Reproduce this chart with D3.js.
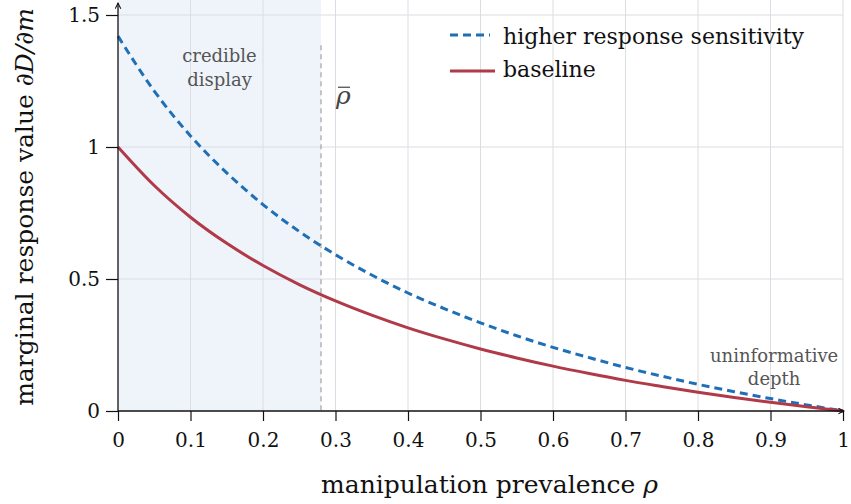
<!DOCTYPE html>
<html>
<head>
<meta charset="utf-8">
<script src="https://cdn.jsdelivr.net/npm/d3@7"></script>
<style>
  body { margin: 0; background: #fff; }
</style>
</head>
<body>
<div id="chart"></div>
<script>
// values
var rho = [0, 0.05, 0.1, 0.15, 0.2, 0.25, 0.3, 0.35, 0.4, 0.45, 0.5, 0.55, 0.6, 0.65, 0.7, 0.75, 0.8, 0.85, 0.9, 0.95, 1];
var baseline = [1.00, 0.854, 0.734, 0.635, 0.551, 0.479, 0.417, 0.363, 0.315, 0.273, 0.235, 0.201, 0.170, 0.142, 0.116, 0.093, 0.071, 0.051, 0.033, 0.016, 0];
var higher = [1.42, 1.212, 1.042, 0.902, 0.782, 0.680, 0.592, 0.515, 0.447, 0.388, 0.334, 0.285, 0.241, 0.202, 0.165, 0.132, 0.101, 0.073, 0.047, 0.023, 0];
var xTicks = [0, 0.1, 0.2, 0.3, 0.4, 0.5, 0.6, 0.7, 0.8, 0.9, 1];
var yTicks = [0, 0.5, 1, 1.5];
var rhoBar = 0.28;

var serif = "'DejaVu Serif', 'Liberation Serif', serif";

var margin = { top: 15, right: 8, bottom: 93, left: 118 },
    width = 851 - margin.left - margin.right,
    height = 504 - margin.top - margin.bottom;

var svg = d3.select("#chart")
    .append("svg")
    .attr("width", 851)
    .attr("height", 504)
    .append("g")
    .attr("transform", "translate(" + margin.left + "," + margin.top + ")");

var x = d3.scaleLinear().domain([0, 1]).range([0, 725]);
var y = d3.scaleLinear().domain([0, 1.5]).range([height, 0]);
var yTop = -margin.top;

// credible display band
svg.append("rect")
    .attr("x", x(0))
    .attr("y", yTop)
    .attr("width", x(rhoBar) - x(0))
    .attr("height", y(0) - yTop)
    .attr("fill", "#eef4fa");

// grid
svg.append("g").selectAll("line").data(xTicks.slice(1)).enter().append("line")
    .attr("x1", function (d) { return x(d); })
    .attr("x2", function (d) { return x(d); })
    .attr("y1", y(0)).attr("y2", yTop)
    .attr("stroke", "#dcdde3").attr("stroke-width", 1);
svg.append("g").selectAll("line").data(yTicks.slice(1)).enter().append("line")
    .attr("x1", x(0)).attr("x2", x(1))
    .attr("y1", function (d) { return y(d); })
    .attr("y2", function (d) { return y(d); })
    .attr("stroke", "#dcdde3").attr("stroke-width", 1);

// rho bar marker
svg.append("line")
    .attr("x1", x(rhoBar)).attr("x2", x(rhoBar))
    .attr("y1", y(1.385)).attr("y2", y(0))
    .attr("stroke", "#aaaaaa").attr("stroke-width", 1.3)
    .attr("stroke-dasharray", "5,4");

var rb = svg.append("text")
    .attr("x", x(rhoBar) + 15)
    .attr("y", y(1.162))
    .style("font-family", serif)
    .style("font-size", "25px")
    .style("font-style", "italic")
    .attr("fill", "#444")
    .text("\u03c1");
var bb = rb.node().getBBox();
svg.append("line")
    .attr("x1", bb.x + 3).attr("x2", bb.x + bb.width - 1)
    .attr("y1", y(1.162) - 17).attr("y2", y(1.162) - 17)
    .attr("stroke", "#444").attr("stroke-width", 1.2);

// annotations
var note1 = svg.append("text")
    .attr("text-anchor", "middle")
    .style("font-family", serif)
    .style("font-size", "18px")
    .attr("fill", "#555");
note1.append("tspan").attr("x", x(0.14)).attr("y", y(1.322)).text("credible");
note1.append("tspan").attr("x", x(0.14)).attr("y", y(1.231)).text("display");

var note2 = svg.append("text")
    .attr("text-anchor", "middle")
    .style("font-family", serif)
    .style("font-size", "18px")
    .attr("fill", "#555");
note2.append("tspan").attr("x", x(0.905)).attr("y", y(0.186)).text("uninformative");
note2.append("tspan").attr("x", x(0.905)).attr("y", y(0.099)).text("depth");

// curves
var line = d3.line()
    .x(function (d, i) { return x(rho[i]); })
    .y(function (d) { return y(d); })
    .curve(d3.curveMonotoneX);

svg.append("path")
    .datum(higher)
    .attr("fill", "none")
    .attr("stroke", "#1f6fb6")
    .attr("stroke-width", 3)
    .attr("stroke-dasharray", "8,5")
    .attr("d", line);

svg.append("path")
    .datum(baseline)
    .attr("fill", "none")
    .attr("stroke", "#b03a48")
    .attr("stroke-width", 3)
    .attr("d", line);

// axes
var xAxis = svg.append("g")
    .attr("transform", "translate(0," + height + ")")
    .call(d3.axisBottom(x).tickValues(xTicks).tickSize(10).tickPadding(12)
        .tickFormat(function (d) { return d === 0 || d === 1 ? d : d3.format(".1f")(d); }));
xAxis.select(".domain").remove();
xAxis.selectAll("text").style("font-size", "20px").style("font-family", serif).attr("fill", "#111");
xAxis.selectAll("line").attr("stroke", "#111").attr("stroke-width", 1.2);

var yAxis = svg.append("g")
    .call(d3.axisLeft(y).tickValues(yTicks).tickSize(12).tickPadding(6)
        .tickFormat(function (d) { return d; }));
yAxis.select(".domain").remove();
yAxis.selectAll("text").style("font-size", "20px").style("font-family", serif).attr("fill", "#111");
yAxis.selectAll("line").attr("stroke", "#111").attr("stroke-width", 1.2);

// axis lines with arrow heads
var defs = svg.append("defs");
defs.append("marker")
    .attr("id", "arrow")
    .attr("viewBox", "0 0 10 10")
    .attr("refX", 9).attr("refY", 5)
    .attr("markerWidth", 7).attr("markerHeight", 7)
    .attr("markerUnits", "userSpaceOnUse")
    .attr("orient", "auto")
    .append("path")
    .attr("d", "M1,1 L9,5 L1,9")
    .attr("fill", "none")
    .attr("stroke", "#111")
    .attr("stroke-width", 1.5);

svg.append("line")
    .attr("x1", x(0)).attr("x2", x(1) + 1)
    .attr("y1", y(0)).attr("y2", y(0))
    .attr("stroke", "#111").attr("stroke-width", 1.3)
    .attr("marker-end", "url(#arrow)");
svg.append("line")
    .attr("x1", x(0)).attr("x2", x(0))
    .attr("y1", y(0)).attr("y2", y(1.545))
    .attr("stroke", "#111").attr("stroke-width", 1.3)
    .attr("marker-end", "url(#arrow)");

// axis titles
var xt = svg.append("text")
    .attr("text-anchor", "middle")
    .attr("x", 489.5 - margin.left)
    .attr("y", 493 - margin.top)
    .style("font-family", serif)
    .style("font-size", "25px")
    .attr("fill", "#111");
xt.append("tspan").text("manipulation prevalence ");
xt.append("tspan").style("font-style", "italic").text("\u03c1");

var yt = svg.append("text")
    .attr("text-anchor", "middle")
    .attr("transform", "translate(" + (33 - margin.left) + "," + (207 - margin.top) + ") rotate(-90)")
    .style("font-family", serif)
    .style("font-size", "25px")
    .attr("fill", "#111");
yt.append("tspan").text("marginal response value ");
yt.append("tspan").style("font-style", "italic").text("\u2202D/\u2202m");

// legend
var legend = svg.append("g").attr("transform", "translate(" + (450 - margin.left) + "," + (35 - margin.top) + ")");
legend.append("line").attr("x1", 0).attr("x2", 40).attr("y1", 0).attr("y2", 0)
    .attr("stroke", "#1f6fb6").attr("stroke-width", 3).attr("stroke-dasharray", "8,5");
legend.append("text").attr("x", 53).attr("y", 8.5)
    .style("font-family", serif).style("font-size", "22px").attr("fill", "#111")
    .text("higher response sensitivity");
legend.append("line").attr("x1", 0).attr("x2", 45).attr("y1", 36).attr("y2", 36)
    .attr("stroke", "#b03a48").attr("stroke-width", 3);
legend.append("text").attr("x", 53).attr("y", 42)
    .style("font-family", serif).style("font-size", "22px").attr("fill", "#111")
    .text("baseline");
</script>
</body>
</html>
